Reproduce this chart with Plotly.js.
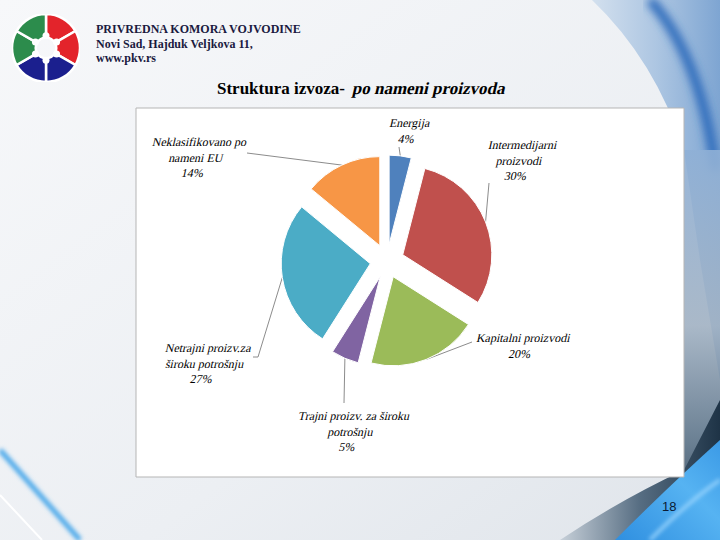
<!DOCTYPE html>
<html>
<head>
<meta charset="utf-8">
<script src="https://cdn.plot.ly/plotly-3.0.1.min.js"></script>
<style>
  html,body{margin:0;padding:0;width:720px;height:540px;overflow:hidden;}
  #bg{position:absolute;left:0;top:0;}
  #chart{position:absolute;left:0;top:0;width:720px;height:540px;}
  #logo{position:absolute;left:12px;top:14px;width:68px;height:68px;}
</style>
</head>
<body>
<svg id="bg" width="720" height="540" xmlns="http://www.w3.org/2000/svg">
  <defs>
    <linearGradient id="gbg" x1="0" y1="0" x2="1" y2="1">
      <stop offset="0" stop-color="#f7f8fa"/>
      <stop offset="0.6" stop-color="#eceff3"/>
      <stop offset="1" stop-color="#dfe4ea"/>
    </linearGradient>
    <linearGradient id="gtr" x1="0" y1="0" x2="1" y2="0">
      <stop offset="0" stop-color="#d3e0ee"/>
      <stop offset="0.5" stop-color="#adc6e2"/>
      <stop offset="1" stop-color="#7ea5d2"/>
    </linearGradient>
    <linearGradient id="gside" x1="0" y1="0" x2="0" y2="1">
      <stop offset="0" stop-color="#8fb0d6"/>
      <stop offset="0.45" stop-color="#a3b3c4"/>
      <stop offset="0.75" stop-color="#5d7489"/>
      <stop offset="1" stop-color="#1f3447"/>
    </linearGradient>
    <linearGradient id="gbr" x1="0" y1="0" x2="1" y2="0">
      <stop offset="0" stop-color="#c7d0d9"/>
      <stop offset="0.5" stop-color="#566d82"/>
      <stop offset="1" stop-color="#1e3346"/>
    </linearGradient>
    <linearGradient id="gblue" x1="0" y1="1" x2="1" y2="0">
      <stop offset="0" stop-color="#2f8fe0"/>
      <stop offset="0.6" stop-color="#56b3f2"/>
      <stop offset="1" stop-color="#3b9ae6"/>
    </linearGradient>
    <filter id="blur4"><feGaussianBlur stdDeviation="4"/></filter>
    <filter id="blur2"><feGaussianBlur stdDeviation="2"/></filter>
  </defs>
  <rect width="720" height="540" fill="url(#gbg)"/>
  <path d="M592 0 Q655 60 684 150 L700 260 L720 380 L720 0 Z" fill="url(#gtr)"/>
  <path d="M650 0 Q700 55 716 170" stroke="#2f6cbc" stroke-width="10" fill="none" filter="url(#blur4)"/>
  <path d="M684 150 L720 150 L720 540 L684 540 Z" fill="url(#gside)" opacity="0.9"/>
  <path d="M560 540 Q620 500 684 470 L720 400 L720 540 Z" fill="url(#gbr)"/>
  <path d="M615 540 Q670 485 720 440 L720 540 Z" fill="url(#gblue)"/>
  <path d="M650 540 Q690 500 720 480" stroke="#9fd8ff" stroke-width="3" fill="none" filter="url(#blur2)"/>
  <path d="M0 450 L80 540" stroke="#4aa8ea" stroke-width="5" fill="none" filter="url(#blur2)"/>
  <path d="M0 495 L42 540" stroke="#ffffff" stroke-width="2" fill="none"/>
</svg>
<div id="chart"></div>
<div id="logo"></div>
<svg id="dots" width="720" height="540" style="position:absolute;left:0;top:0;pointer-events:none">
</svg>
<script>
// ---- data ----
var categories = ["Energija", "Intermedijarni<br>proizvodi", "Kapitalni proizvodi",
                  "Trajni proizv. za široku<br>potrošnju", "Netrajni proizv.za<br>široku potrošnju",
                  "Neklasifikovano po<br>nameni EU"];
var shares = [4, 30, 20, 5, 27, 14];
var sliceColors = ["#4F81BD", "#C0504D", "#9BBB59", "#8064A2", "#4BACC6", "#F79646"];
var titleMain = "Struktura izvoza-";
var titleItalic = "po nameni proizvoda";

// ---- layout constants (page pixels) ----
var W = 720, H = 540;
var SERIF = "Liberation Serif";
var pull = 0.19;
var dom = {x: [281 / W, 493 / W], y: [1 - 367 / H, 1 - 155 / H]};
var labelPos = [[408, 131], [519, 160], [522, 346], [350, 431], [205, 363], [196, 158]];
var lineStart = [[399, 147], [489, 183], [472, 342], [344, 403], [253, 357], [247, 153]];
var lineElbow = [null, null, null, null, [258, 357], null];

function px(x) { return x / W; }
function py(y) { return 1 - y / H; }

var cx = (dom.x[0] + dom.x[1]) / 2 * W;
var cy = (1 - (dom.y[0] + dom.y[1]) / 2) * H;
var r = Math.min((dom.x[1] - dom.x[0]) * W, (dom.y[1] - dom.y[0]) * H) / 2 / (1 + pull);
var total = shares.reduce(function (a, b) { return a + b; }, 0);

var shapes = [{
  type: "rect", xref: "paper", yref: "paper",
  x0: px(136), x1: px(684), y0: py(477), y1: py(108),
  fillcolor: "#ffffff", line: {color: "#b5b5b5", width: 1}, layer: "below"
}];
var annotations = [];
var italicIdx = [];
var cum = 0;
for (var i = 0; i < shares.length; i++) {
  var mid = (cum + shares[i] / 2) / total * 2 * Math.PI;
  cum += shares[i];
  var rr = r * (1 + pull);
  var ex = cx + rr * Math.sin(mid), ey = cy - rr * Math.cos(mid);
  var s = lineStart[i];
  var path = "M" + px(s[0]) + "," + py(s[1]);
  if (lineElbow[i]) path += " L" + px(lineElbow[i][0]) + "," + py(lineElbow[i][1]);
  path += " L" + px(ex) + "," + py(ey);
  shapes.push({type: "path", xref: "paper", yref: "paper", path: path,
               line: {color: "#8c8c8c", width: 1}, layer: "below"});
  italicIdx.push(annotations.length);
  annotations.push({
    xref: "paper", yref: "paper", x: px(labelPos[i][0]), y: py(labelPos[i][1]),
    xanchor: "center", yanchor: "middle", showarrow: false, align: "center",
    text: categories[i] + "<br>" + shares[i] + "%",
    font: {family: SERIF, size: 12, color: "#000000"}
  });
}

// header texts
var header = ["PRIVREDNA KOMORA VOJVODINE", "Novi Sad, Hajduk Veljkova 11,", "www.pkv.rs"];
var headerY = [29, 44, 58];
for (var j = 0; j < header.length; j++) {
  annotations.push({
    xref: "paper", yref: "paper", x: px(94), y: py(headerY[j]),
    xanchor: "left", yanchor: "middle", showarrow: false,
    text: "<b>" + header[j] + "</b>",
    font: {family: SERIF, size: 12, color: "#1a1a40"}
  });
}
// chart title (two parts: upright + italic)
annotations.push({
  xref: "paper", yref: "paper", x: px(347), y: py(88),
  xanchor: "right", yanchor: "middle", showarrow: false,
  text: "<b>" + titleMain + "</b>",
  font: {family: SERIF, size: 17, color: "#000000"}
});
italicIdx.push(annotations.length);
annotations.push({
  xref: "paper", yref: "paper", x: px(351), y: py(88),
  xanchor: "left", yanchor: "middle", showarrow: false,
  text: "<b>" + titleItalic + "</b>",
  font: {family: SERIF, size: 17, color: "#000000"}
});
annotations.push({
  xref: "paper", yref: "paper", x: px(669), y: py(506),
  xanchor: "center", yanchor: "middle", showarrow: false, text: "18",
  font: {family: "Liberation Sans", size: 13, color: "#0b1b33"}
});

var trace = {
  type: "pie", labels: categories, values: shares, sort: false,
  direction: "clockwise", rotation: 0, pull: pull,
  marker: {colors: sliceColors, line: {color: "#ffffff", width: 1}},
  textinfo: "none", hoverinfo: "label+percent", showlegend: false,
  domain: dom
};

var layout = {
  width: W, height: H, margin: {l: 0, r: 0, t: 0, b: 0},
  paper_bgcolor: "rgba(0,0,0,0)", plot_bgcolor: "rgba(0,0,0,0)",
  showlegend: false,
  shapes: shapes, annotations: annotations
};
Plotly.newPlot("chart", [trace], layout, {displayModeBar: false, staticPlot: true}).then(function (gd) {
  // slant the serif text (oblique) for the italic labels
  var gs = gd.querySelectorAll("g.annotation");
  for (var n = 0; n < gs.length; n++) {
    var idx = +gs[n].getAttribute("data-index");
    if (italicIdx.indexOf(idx) >= 0) {
      var t = gs[n].querySelector("text.annotation-text");
      if (t) {
        t.style.transformBox = "fill-box";
        t.style.transformOrigin = "center";
        t.style.transform = "skewX(-13deg)";
      }
    }
  }
});

// logo
var logoParts = [1, 1, 1, 1, 1, 1];
var logoColors = ["#e3242b", "#e3242b", "#1b1f8e", "#1b1f8e", "#2c8c4c", "#2c8c4c"];
Plotly.newPlot("logo", [{
  type: "pie", values: logoParts, sort: false, direction: "clockwise", rotation: 0,
  hole: 0.3, marker: {colors: logoColors, line: {color: "#ffffff", width: 2.5}},
  textinfo: "none", hoverinfo: "none", showlegend: false
}], {
  width: 68, height: 68, margin: {l: 0, r: 0, t: 0, b: 0},
  paper_bgcolor: "rgba(0,0,0,0)", showlegend: false
}, {displayModeBar: false, staticPlot: true});

var dots = document.getElementById("dots");
var lcx = 12 + 34, lcy = 14 + 34, lr = 34 * 0.3 + 2;
for (var k = 0; k < logoParts.length; k++) {
  var a = k / logoParts.length * 2 * Math.PI;
  var c = document.createElementNS("http://www.w3.org/2000/svg", "circle");
  c.setAttribute("cx", lcx + lr * Math.sin(a));
  c.setAttribute("cy", lcy - lr * Math.cos(a));
  c.setAttribute("r", 3.5);
  c.setAttribute("fill", "#ffffff");
  dots.appendChild(c);
}
</script>
</body>
</html>
